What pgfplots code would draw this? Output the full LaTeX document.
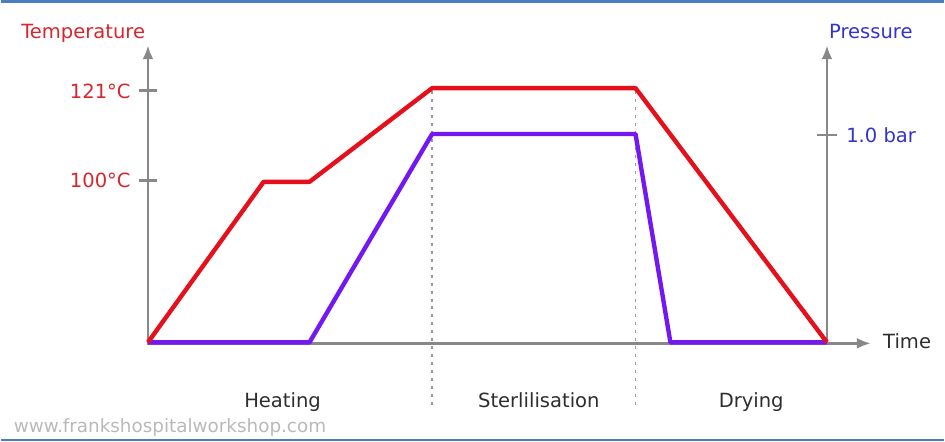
\documentclass[border=0pt]{standalone}
\usepackage{pgfplots}
\pgfplotsset{compat=1.18}
\usetikzlibrary{arrows.meta}
\usepackage{fontspec}
\setmainfont{DejaVu Sans}
\definecolor{tred}{HTML}{E4101C}
\definecolor{tlabel}{HTML}{D8262E}
\definecolor{pviolet}{HTML}{7418F2}
\definecolor{pblue}{HTML}{3434CC}
\definecolor{axgray}{HTML}{888888}
\definecolor{frameblue}{HTML}{4A7EC0}
\definecolor{txt}{HTML}{2E2E2E}
\begin{document}
\begin{tikzpicture}[font=\fontsize{9.8}{11}\selectfont]
\begin{axis}[width=472.5pt,height=222pt,scale only axis,
  xmin=0,xmax=945,ymin=0,ymax=444,y dir=reverse,
  axis lines=none,ticks=none,clip=false]
% frame lines
\draw[frameblue,line width=1.4pt] (axis cs:0,2) -- (axis cs:945,2);
\draw[frameblue,line width=1.4pt] (axis cs:0,442) -- (axis cs:945,442);
% axes
\draw[axgray,line width=1.4pt,-{Latex[length=7pt,width=5.5pt]}] (axis cs:147,345) -- (axis cs:147,46);
\draw[axgray,line width=1.4pt,-{Latex[length=7pt,width=5.5pt]}] (axis cs:828,345) -- (axis cs:828,46);
\draw[axgray,line width=1.4pt,-{Latex[length=7pt,width=5.5pt]}] (axis cs:146,345) -- (axis cs:872,345);
% ticks
\draw[axgray,line width=1.4pt] (axis cs:138,91) -- (axis cs:156,91);
\draw[axgray,line width=1.4pt] (axis cs:138,182) -- (axis cs:156,182);
\draw[axgray,line width=1.4pt] (axis cs:818,136) -- (axis cs:838,136);
% phase separators
\draw[gray!80,line width=0.7pt,dash pattern=on 1.5pt off 2.5pt] (axis cs:432,92) -- (axis cs:432,410);
\draw[gray!80,line width=0.7pt,dash pattern=on 1.5pt off 2.5pt] (axis cs:636,92) -- (axis cs:636,410);
% pressure
\addplot[pviolet,line width=2.2pt,line join=round] coordinates {
(147,344) (309,344) (432,135) (636,135) (671,344) (828,344)};
% temperature
\addplot[tred,line width=2.2pt,line join=round] coordinates {
(147,344) (263,183) (309,183) (432,89) (636,89) (828,344)};
% labels
\node[tlabel,anchor=base,inner sep=0] at (axis cs:82,39) {Temperature};
\node[tlabel,anchor=east,inner sep=0] at (axis cs:130,92) {121°C};
\node[tlabel,anchor=east,inner sep=0] at (axis cs:130,182) {100°C};
\node[pblue,anchor=base,inner sep=0] at (axis cs:872,39) {Pressure};
\node[pblue,anchor=west,inner sep=0] at (axis cs:847,136) {1.0 bar};
\node[txt,anchor=west,inner sep=0] at (axis cs:884,343) {Time};
\node[txt,anchor=base,inner sep=0] at (axis cs:282,409) {Heating};
\node[txt,anchor=base,inner sep=0] at (axis cs:539,409) {Sterlilisation};
\node[txt,anchor=base,inner sep=0] at (axis cs:752,409) {Drying};
\node[gray!55,anchor=base west,inner sep=0,font=\fontsize{9.2}{10}\selectfont] at (axis cs:12,434) {www.frankshospitalworkshop.com};
\end{axis}
\end{tikzpicture}
\end{document}
